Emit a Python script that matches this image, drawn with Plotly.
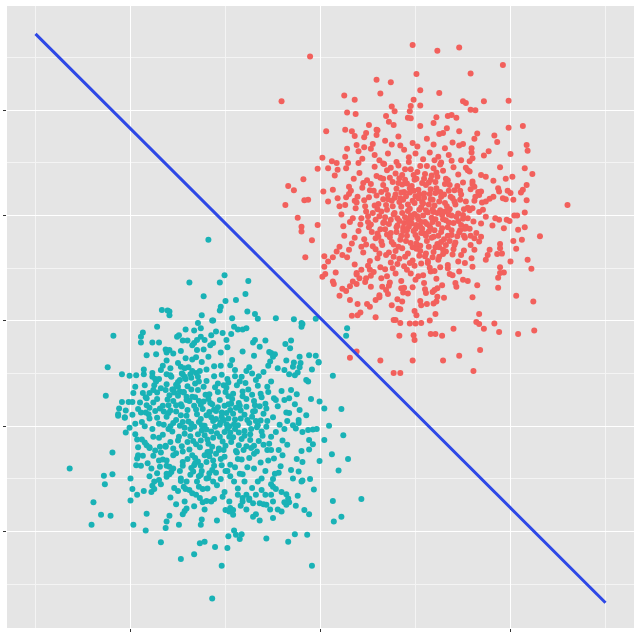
import plotly.graph_objects as go

# class 1 (red) - sparse edge points and dense core
red_outer = [
    (0.97, 5.24), (-0.11, 5.02), (1.01, 4.69), (0.59, 4.58), (0.74, 4.53), (0.63, 4.32), (1.05, 4.38),
    (-0.41, 4.17), (0.25, 4.28), (0.36, 4.20), (0.98, 4.20), (0.95, 4.08), (0.75, 4.07), (0.78, 3.98),
    (0.28, 3.96), (0.37, 3.93), (0.69, 3.89), (0.94, 3.98), (0.92, 3.86), (0.51, 3.72), (0.77, 3.72),
    (0.06, 3.60), (0.26, 3.63), (0.33, 3.60), (0.59, 3.63), (0.48, 3.57), (0.46, 3.49), (0.59, 3.53),
    (0.36, 3.51), (0.38, 3.34), (0.46, 3.30), (0.68, 3.42), (0.53, 3.27), (0.28, 3.27), (0.40, 3.22),
    (0.02, 3.10), (0.26, 3.12), (0.12, 3.03), (0.17, 3.00), (0.29, 3.00), (0.40, 3.00), (-0.03, 2.89),
    (0.08, 2.90), (0.27, 2.90), (0.18, 2.87), (0.15, 2.76), (-0.18, 2.69), (-0.34, 2.56), (-0.28, 2.48),
    (0.03, 2.46), (0.13, 2.49), (-0.17, 2.29), (-0.13, 2.30), (-0.37, 2.20), (0.08, 2.27), (0.18, 2.33),
    (0.27, 2.35), (0.32, 2.47), (0.20, 2.18), (0.36, 2.28),
    (1.23, 5.13), (1.46, 5.19), (1.92, 4.86), (1.58, 4.70), (1.25, 4.33), (1.05, 4.09), (1.50, 4.17),
    (1.53, 4.14), (1.72, 4.17), (1.98, 4.18), (1.58, 4.01), (1.63, 4.00), (1.22, 3.87), (1.19, 3.76),
    (1.34, 3.89), (1.38, 3.91), (1.43, 3.86), (1.98, 3.67), (2.13, 3.70), (1.46, 3.60), (1.29, 3.57),
    (1.33, 3.66), (1.65, 3.56), (1.83, 3.52), (1.62, 3.46), (1.86, 3.40), (2.17, 3.34), (2.18, 3.23),
    (1.77, 3.22), (1.59, 3.28), (1.59, 3.20), (1.72, 3.14), (1.50, 3.36), (1.46, 3.33), (1.39, 3.39),
    (2.00, 3.17), (1.89, 2.92), (2.15, 2.90), (2.23, 2.79), (2.02, 2.74), (1.95, 2.70), (1.82, 2.66),
    (2.17, 2.58), (2.13, 2.49), (2.11, 2.44), (1.87, 2.52), (1.88, 2.46), (1.97, 2.47), (2.00, 2.43),
    (1.74, 2.74), (1.69, 2.77), (2.03, 2.30), (2.17, 2.29), (2.60, 2.20), (1.92, 2.33), (1.95, 2.31),
    (1.82, 2.36), (1.78, 2.32), (1.74, 2.27), (1.69, 2.46), (1.67, 2.39), (1.60, 2.65), (1.62, 2.55),
    (1.53, 2.91), (1.57, 2.84), (1.57, 3.03), (1.60, 3.09),
    (2.15, 2.06), (2.04, 2.00), (2.07, 2.00), (1.99, 1.90), (1.96, 1.92), (1.88, 1.92), (1.84, 1.95),
    (2.15, 1.78), (2.08, 1.73), (2.31, 1.61), (2.12, 1.54), (2.03, 1.52), (2.06, 1.37), (1.93, 1.76),
    (1.81, 1.81), (1.89, 1.46), (1.89, 1.38), (1.86, 1.27), (1.91, 1.28), (2.18, 1.16), (2.00, 1.13),
    (2.22, 0.99), (1.89, 1.02), (1.93, 0.92), (1.89, 0.91), (1.87, 0.82), (1.87, 0.63), (2.06, 0.48),
    (2.24, 0.37), (1.65, 0.68), (1.60, 0.45), (1.67, 0.13), (1.64, -0.02), (1.67, -0.06), (1.83, -0.05),
    (1.72, -0.15), (1.40, -0.15), (1.88, -0.21), (2.08, -0.25), (2.25, -0.18), (1.16, -0.25), (1.21, -0.25),
    (1.28, -0.28), (1.68, -0.55), (1.46, -0.66), (1.29, -0.75), (1.61, -0.95), (1.15, 0.01), (1.21, 0.13),
    (1.06, -0.04), (1.12, 0.32), (1.19, 0.33), (1.22, 0.37), (1.11, 0.53), (1.23, 0.46), (1.23, 0.62),
    (1.20, 0.59), (1.42, 0.72), (1.43, 0.65), (1.50, 0.78), (1.55, 0.76), (1.46, 0.94), (1.39, 0.87),
    (1.34, 1.00), (1.60, 1.03), (1.59, 1.19), (1.52, 1.10), (1.76, 1.25), (1.78, 1.35), (1.74, 1.16),
    (1.67, 1.51), (1.62, 1.57), (1.69, 1.60), (1.51, 1.62), (1.57, 1.75), (1.53, 1.79), (1.71, 2.11),
    (1.60, 2.14), (1.50, 2.01), (1.41, 1.44), (1.32, 1.32), (1.25, 1.22), (1.13, 1.10), (1.08, 0.87),
    (1.06, 0.30),
    (-0.24, 1.96), (-0.20, 1.79), (-0.20, 1.70), (-0.09, 1.53), (-0.16, 1.21), (-0.03, 1.82), (0.02, 0.84),
    (0.05, 0.89), (0.13, 0.75), (0.14, 0.70), (0.16, 0.92), (0.20, 0.48), (0.23, 0.61), (0.27, 0.57),
    (0.31, 0.40), (0.33, 0.10), (0.39, 0.11), (0.42, 0.16), (0.39, 0.32), (0.31, 0.66), (0.38, 0.70),
    (0.53, 0.65), (0.49, 0.32), (0.52, 0.27), (0.58, 0.40), (0.62, 0.49), (0.71, 0.51), (0.58, 0.07),
    (0.77, 0.02), (0.79, 0.02), (0.84, -0.04), (0.94, -0.05), (1.00, -0.05), (0.83, -0.28), (0.82, 0.23),
    (0.86, 0.37), (0.98, -0.27), (0.99, -0.36), (0.63, -0.75), (0.31, -0.70), (0.38, -0.58), (0.77, -0.99),
    (0.84, -0.99), (0.97, -0.75), (0.99, 0.19), (1.01, 0.11), (0.81, 0.41), (0.87, 0.54), (0.88, 0.63),
    (0.04, 1.03), (0.08, 1.13), (0.13, 1.21), (0.04, 1.23), (0.17, 1.32), (0.23, 1.25), (0.20, 1.41),
    (0.34, 0.75), (0.41, 0.81), (0.38, 0.91), (0.43, 0.97), (0.48, 0.81), (0.53, 0.86), (0.52, 0.97),
    (0.65, 0.65), (0.69, 0.59), (0.73, 0.73),
]

red_core = [
    (0.62, 3.05), (0.71, 3.18), (0.80, 3.02), (0.88, 3.25), (0.93, 3.11), (1.02, 3.31), (1.08, 3.07),
    (1.15, 3.20), (1.24, 3.12), (1.31, 3.28), (1.38, 3.04), (0.55, 3.36), (0.97, 3.38), (1.19, 3.35),
    (0.84, 3.33), (1.27, 3.01), (0.67, 2.98),
    (0.41, 2.81), (0.49, 2.67), (0.57, 2.93), (0.63, 2.72), (0.70, 2.86), (0.76, 2.64), (0.82, 2.95),
    (0.86, 2.77), (0.91, 2.61), (0.95, 2.88), (1.01, 2.70), (1.05, 2.94), (1.10, 2.79), (1.14, 2.63),
    (1.19, 2.90), (1.23, 2.74), (1.29, 2.85), (1.34, 2.67), (1.40, 2.92), (1.45, 2.78), (1.50, 2.63),
    (1.55, 2.86), (0.53, 2.60), (0.66, 2.99), (0.79, 2.80), (1.07, 2.62), (1.26, 2.97), (0.98, 2.77),
    (1.16, 2.68), (0.35, 2.70),
    (0.30, 2.41), (0.38, 2.25), (0.44, 2.53), (0.51, 2.35), (0.56, 2.47), (0.61, 2.22), (0.66, 2.58),
    (0.71, 2.39), (0.75, 2.28), (0.80, 2.51), (0.84, 2.33), (0.88, 2.45), (0.92, 2.21), (0.96, 2.56),
    (1.00, 2.37), (1.03, 2.49), (1.07, 2.26), (1.11, 2.58), (1.15, 2.41), (1.18, 2.30), (1.22, 2.52),
    (1.27, 2.36), (1.31, 2.24), (1.35, 2.47), (1.39, 2.33), (1.44, 2.56), (1.48, 2.40), (1.53, 2.27),
    (1.58, 2.50), (1.63, 2.36), (0.46, 2.29), (0.69, 2.49), (0.86, 2.59), (0.99, 2.24), (1.21, 2.43),
    (1.36, 2.58), (0.59, 2.38), (0.94, 2.44), (1.09, 2.34), (1.42, 2.21),
    (0.22, 2.02), (0.31, 1.88), (0.37, 2.14), (0.43, 1.95), (0.48, 2.08), (0.53, 1.83), (0.57, 2.19),
    (0.62, 1.99), (0.66, 1.86), (0.70, 2.11), (0.74, 1.92), (0.78, 2.05), (0.81, 1.81), (0.85, 2.17),
    (0.89, 1.97), (0.92, 2.09), (0.96, 1.85), (0.99, 2.03), (1.03, 1.93), (1.06, 2.16), (1.10, 1.88),
    (1.13, 2.06), (1.17, 1.96), (1.20, 2.19), (1.24, 1.84), (1.28, 2.01), (1.32, 1.91), (1.36, 2.12),
    (1.40, 1.86), (1.45, 2.04), (1.50, 1.94), (1.55, 2.15), (1.61, 1.89), (1.67, 2.07), (1.74, 1.98),
    (0.50, 1.99), (0.64, 2.08), (0.76, 2.18), (0.83, 1.90), (0.94, 2.13), (1.01, 1.82), (1.15, 1.80),
    (1.26, 2.10), (1.38, 2.00), (1.48, 1.82), (0.72, 1.84), (1.08, 2.00), (0.88, 1.86), (1.19, 2.07),
    (0.58, 1.92),
    (0.25, 1.62), (0.33, 1.47), (0.40, 1.71), (0.46, 1.55), (0.51, 1.78), (0.55, 1.42), (0.60, 1.66),
    (0.64, 1.51), (0.68, 1.74), (0.73, 1.59), (0.77, 1.45), (0.80, 1.69), (0.84, 1.54), (0.87, 1.77),
    (0.91, 1.62), (0.95, 1.48), (0.98, 1.71), (1.02, 1.57), (1.05, 1.43), (1.09, 1.66), (1.12, 1.52),
    (1.16, 1.75), (1.19, 1.60), (1.23, 1.46), (1.27, 1.69), (1.30, 1.55), (1.34, 1.78), (1.38, 1.63),
    (1.42, 1.49), (1.47, 1.72), (1.52, 1.58), (1.58, 1.44), (1.64, 1.67), (0.43, 1.41), (0.70, 1.64),
    (0.93, 1.79), (1.07, 1.75), (1.21, 1.40), (1.44, 1.61), (0.58, 1.57), (0.82, 1.41), (1.00, 1.63),
    (1.14, 1.41), (1.32, 1.44), (0.36, 1.58),
    (0.28, 1.21), (0.36, 1.07), (0.45, 1.30), (0.52, 1.14), (0.58, 1.36), (0.63, 1.02), (0.69, 1.25),
    (0.74, 1.11), (0.79, 1.33), (0.83, 1.18), (0.88, 1.04), (0.92, 1.28), (0.97, 1.15), (1.01, 1.37),
    (1.06, 1.09), (1.10, 1.23), (1.15, 1.01), (1.19, 1.31), (1.24, 1.16), (1.29, 1.35), (1.34, 1.06),
    (1.39, 1.26), (1.45, 1.13), (1.51, 1.34), (0.60, 1.19), (0.86, 1.38), (1.04, 1.24), (1.26, 1.02),
    (0.76, 1.00), (0.99, 1.05),
    (0.38, 0.88), (0.47, 0.74), (0.56, 0.93), (0.64, 0.81), (0.72, 0.67), (0.79, 0.90), (0.85, 0.76),
    (0.91, 0.97), (0.97, 0.64), (1.03, 0.85), (1.09, 0.72), (1.16, 0.94), (1.22, 0.80), (1.28, 0.68),
    (1.36, 0.89), (0.68, 0.98), (1.00, 0.78),
    (0.62, 0.45), (0.75, 0.30), (0.92, 0.52), (1.05, 0.38), (1.18, 0.55), (0.84, 0.22), (1.30, 0.44),
    (0.60, 3.62), (0.82, 3.50), (1.05, 3.70), (1.25, 3.55), (0.95, 3.85), (0.72, 3.78), (1.12, 3.46),
    (0.71, 2.31), (0.77, 2.02), (0.83, 2.26), (0.87, 1.71), (0.90, 2.37), (0.93, 1.94), (0.97, 2.28),
    (1.00, 1.75), (1.04, 2.11), (1.06, 1.67), (1.09, 2.42), (1.12, 1.84), (1.14, 2.21), (1.17, 1.58),
    (1.21, 1.93), (1.25, 2.27), (1.28, 1.76), (1.31, 2.08), (1.34, 1.62), (1.37, 2.36), (0.68, 1.97),
    (0.74, 1.67), (0.79, 2.40), (0.81, 1.95), (0.86, 2.05), (0.90, 1.52), (0.95, 2.00), (0.98, 2.47),
    (1.02, 1.99), (1.05, 1.79), (1.08, 2.23), (1.11, 1.62), (1.16, 2.31), (1.20, 1.72), (1.23, 2.05),
    (1.27, 1.50), (1.30, 2.40), (1.35, 1.87), (1.41, 2.27), (1.46, 1.68), (0.60, 2.12), (0.63, 1.74),
    (0.66, 2.31), (0.92, 1.88), (1.03, 2.33), (1.18, 2.12), (1.33, 2.18), (1.45, 1.90), (0.54, 1.69),
    (0.85, 2.44), (0.66, 2.70), (0.74, 2.91), (0.89, 2.68), (1.02, 2.83), (1.17, 2.76), (1.31, 2.60),
    (0.83, 2.71), (1.12, 2.94), (0.93, 3.02), (1.21, 2.64), (0.72, 1.30), (0.89, 1.22), (1.05, 1.33),
    (1.18, 1.21), (0.81, 1.08), (0.97, 1.40), (1.13, 1.14), (1.29, 1.27), (0.65, 1.44), (1.36, 1.52),
    (0.47, 2.18), (0.52, 2.48), (0.42, 1.83), (1.57, 2.10), (1.62, 2.28), (1.52, 1.75), (1.47, 2.47),
    (0.39, 2.36), (1.69, 1.85), (0.34, 1.95),
    (0.45, 2.62), (0.50, 1.88), (0.55, 2.05), (0.59, 2.75), (0.61, 1.60), (0.64, 2.45), (0.67, 1.88),
    (0.69, 2.20), (0.73, 2.72), (0.75, 1.50), (0.78, 2.34), (0.80, 1.78), (0.82, 2.62), (0.85, 1.62),
    (0.87, 2.30), (0.89, 2.88), (0.91, 1.72), (0.94, 2.52), (0.96, 1.95), (0.99, 2.68), (1.01, 1.47),
    (1.04, 2.40), (1.06, 1.88), (1.09, 2.70), (1.11, 2.10), (1.14, 1.70), (1.16, 2.50), (1.18, 1.88),
    (1.22, 2.82), (1.24, 1.62), (1.26, 2.45), (1.29, 1.93), (1.32, 2.70), (1.35, 2.02), (1.38, 1.72),
    (1.41, 2.48), (1.43, 1.98), (1.47, 2.30), (1.51, 2.12), (1.55, 1.95), (0.48, 1.45), (0.62, 1.28),
    (0.77, 1.22), (0.94, 1.10), (1.11, 1.28), (1.25, 1.40), (1.40, 1.36), (0.57, 3.15), (0.75, 3.35),
    (1.00, 3.18), (1.20, 3.05), (1.35, 3.15), (1.48, 3.05), (0.44, 3.08), (0.30, 2.55), (0.26, 2.20),
    (0.24, 1.80), (0.30, 1.35), (1.60, 2.60), (1.66, 2.45), (1.70, 2.25), (1.58, 1.62), (1.62, 1.35),
    (1.48, 1.25), (0.50, 1.05), (0.70, 0.85), (0.95, 0.90), (1.20, 0.95), (1.10, 0.60), (0.85, 0.62),
]

# class 2 (teal)
blue_outer = [
    (-1.18, 1.54), (-1.38, 0.73), (-1.23, 0.47), (-1.67, 0.21), (-1.61, 0.20), (-1.59, 0.18), (-1.59, 0.11),
    (-1.25, 0.11), (-1.14, 0.01), (-1.29, -0.04), (-1.26, -0.14), (-1.33, -0.18), (-1.72, -0.11),
    (-2.18, -0.28), (-1.87, -0.22), (-1.89, -0.30), (-1.89, -0.41), (-1.77, -0.41), (-1.70, -0.41),
    (-1.42, -0.16), (-1.51, -0.30), (-1.49, -0.27), (-1.45, -0.37), (-1.40, -0.37), (-1.35, -0.46),
    (-1.33, -0.42), (-1.30, -0.36), (-1.26, -0.30), (-1.22, -0.36), (-1.16, -0.46), (-1.13, -0.42),
    (-1.23, -0.54), (-1.83, -0.65), (-1.73, -0.63), (-1.62, -0.60), (-1.59, -0.55), (-1.63, -0.54),
    (-1.47, -0.57), (-2.24, -0.88), (-1.50, -0.80), (-1.47, -0.87), (-1.39, -0.88), (-1.35, -0.73),
    (-1.31, -0.69), (-2.09, -1.01), (-2.01, -1.04), (-1.94, -1.03), (-1.86, -1.01), (-1.77, -0.99),
    (-1.77, -1.06), (-1.68, -0.93), (-1.62, -1.01), (-1.57, -1.06), (-1.45, -1.01), (-1.43, -1.06),
    (-1.37, -1.01), (-1.31, -0.99), (-1.29, -1.06), (-2.26, -1.42), (-2.09, -1.54), (-2.02, -1.54),
    (-1.98, -1.54), (-2.12, -1.66), (-2.13, -1.77), (-2.05, -1.70), (-2.06, -1.83), (-1.97, -1.37),
    (-1.87, -1.37), (-1.85, -1.22), (-1.83, -1.47), (-1.80, -1.37), (-1.76, -1.31), (-1.72, -1.36),
    (-1.75, -1.22), (-1.73, -1.15), (-1.92, -1.67), (-1.89, -1.74), (-1.84, -1.74), (-1.81, -1.77),
    (-1.62, -1.20), (-1.63, -1.31), (-1.59, -1.41), (-1.55, -1.30), (-1.50, -1.25), (-1.48, -1.34),
    (-1.44, -1.36), (-1.41, -1.44), (-1.69, -1.66), (-1.66, -1.61), (-1.60, -1.75), (-1.52, -1.72),
    (-2.64, -2.80), (-2.19, -2.50), (-2.28, -2.94), (-2.19, -2.91), (-2.27, -3.10), (-2.39, -3.44),
    (-2.31, -3.68), (-2.21, -3.70), (-2.41, -3.87), (-1.97, -3.87), (-2.00, -2.99), (-1.98, -3.19),
    (-1.93, -3.30), (-2.00, -3.41), (-1.86, -3.23), (-1.78, -3.25), (-1.77, -3.13), (-1.75, -3.19),
    (-1.83, -3.66), (-1.84, -3.98), (-1.68, -4.20), (-1.63, -3.93), (-1.62, -3.81), (-1.59, -3.70),
    (-1.49, -3.87), (-1.47, -4.52), (-1.33, -4.43), (-1.27, -4.22), (-1.22, -4.19), (-1.14, -5.27),
    (-1.25, -3.77), (-1.26, -3.87), (-1.52, -3.48), (-1.45, -3.67), (-1.43, -3.61), (-1.41, -3.56),
    (-1.94, -2.74), (-1.89, -2.75), (-1.93, -2.61), (-1.87, -2.56), (-1.93, -2.25), (-2.05, -2.12),
    (-2.01, -2.03), (-2.06, -1.84), (-2.13, -1.80), (-1.83, -2.36), (-1.80, -2.41), (-1.76, -2.56),
    (-1.69, -2.77), (-1.72, -2.89), (-1.70, -3.02), (-1.62, -2.96), (-1.54, -3.17), (-1.50, -3.23),
    (-1.43, -3.43), (-1.69, -2.39), (-1.63, -2.39), (-1.62, -2.75), (-1.55, -2.80), (-1.59, -2.91),
    (-1.47, -2.99), (-1.41, -3.05), (-1.44, -3.15), (-1.38, -3.21), (-1.35, -3.27), (-1.31, -3.30),
    (-1.27, -3.36), (-1.24, -3.44), (-1.20, -3.42), (-1.15, -3.43), (-1.34, -2.86), (-1.33, -2.74),
    (-1.29, -2.67), (-1.26, -2.92), (-1.20, -2.99), (-1.17, -2.89), (-1.13, -3.05), (-1.19, -3.18),
    (-1.24, -3.19),
    (0.09, -1.99), (0.24, -2.17), (0.04, -2.26), (0.12, -2.53), (0.29, -2.62), (-0.01, -2.66), (0.19, -2.84),
    (0.43, -3.38), (0.13, -3.42), (0.22, -3.72), (0.14, -3.81), (-0.07, -3.20), (-0.11, -3.00),
    (-0.19, -3.03), (-0.17, -3.59), (-0.12, -3.67), (-0.24, -3.32), (-0.26, -3.51), (-0.14, -4.06),
    (-0.27, -4.05), (-0.34, -4.19), (-0.57, -4.13), (-0.09, -4.65), (-0.83, -4.05), (-0.91, -3.98),
    (-0.89, -4.06), (-0.85, -4.14), (-0.97, -4.09), (-1.11, -4.29), (-0.98, -4.31), (-1.04, -4.65),
    (-1.09, -3.79), (-0.64, -3.79), (-0.71, -3.72), (-0.68, -3.67), (-0.50, -3.74), (-0.36, -3.49),
    (-0.33, -3.44), (-0.38, -3.44), (-0.50, -3.43), (-0.45, -3.58), (-0.41, -3.62), (-0.53, -3.58),
    (-0.57, -3.49), (-0.64, -3.46), (-0.71, -3.46), (-0.78, -3.58), (-0.84, -3.51), (-0.82, -3.43),
    (-0.75, -3.40), (-0.92, -3.68), (-0.96, -3.62), (-1.00, -3.59), (-0.92, -3.59), (-0.20, -3.05),
    (-0.29, -2.99), (-0.23, -2.86), (-0.31, -2.83), (-0.19, -2.68), (-0.25, -2.62), (-0.20, -2.47),
    (-0.12, -2.44), (-0.08, -2.34), (-0.12, -2.26), (-0.04, -2.05), (-0.08, -2.06), (-0.13, -2.07),
    (-0.19, -2.11), (-0.26, -2.04), (-0.29, -1.98), (-0.35, -1.90), (-0.23, -1.88), (-0.23, -1.94),
    (-0.36, -3.29), (-0.34, -3.37), (-0.41, -3.25), (-0.47, -3.19), (-0.50, -3.15), (-0.52, -3.30),
    (-0.58, -3.30), (-0.62, -3.21), (-0.68, -3.30), (-0.75, -3.37), (-0.82, -3.36), (-0.87, -3.30),
    (-0.96, -3.43), (-1.03, -3.34),
    (-1.01, 0.87), (-1.06, 0.73), (-0.76, 0.76), (-0.79, 0.51), (-0.89, 0.40), (-1.00, 0.38), (-1.05, 0.27),
    (-1.06, 0.20), (-0.77, 0.18), (-0.69, 0.13), (-0.66, 0.04), (-1.13, 0.01), (-0.93, 0.05), (-0.91, -0.11),
    (-0.87, -0.16), (-0.82, -0.16), (-0.78, -0.14), (-0.47, 0.05), (-0.28, 0.03), (-0.19, -0.06),
    (-0.20, -0.11), (-0.05, 0.04), (0.28, -0.14), (0.27, -0.28), (-1.15, -0.27), (-1.10, -0.20),
    (-1.03, -0.23), (-0.99, -0.36), (-0.94, -0.25), (-0.71, -0.41), (-0.69, -0.36), (-0.64, -0.49),
    (-0.58, -0.37), (-0.52, -0.61), (-0.48, -0.63), (-0.54, -0.59), (-0.50, -0.68), (-0.53, -0.77),
    (-0.37, -0.44), (-0.31, -0.37), (-0.32, -0.52), (-0.22, -0.68), (-0.12, -0.65), (-0.05, -0.66),
    (-0.02, -0.79), (-0.36, -0.75), (-0.28, -0.79), (-0.21, -0.80), (-0.22, -0.88), (-0.29, -0.87),
    (-0.09, -0.92), (-0.02, -0.78), (0.13, -1.04), (-0.38, -0.93), (-0.33, -1.01), (-0.27, -1.03),
    (-0.24, -0.98), (-0.15, -1.12), (-0.13, -1.15), (-0.31, -1.31), (-0.25, -1.39), (-0.33, -1.47),
    (-0.10, -1.48), (-0.01, -1.53), (0.04, -1.66), (0.22, -1.67), (-0.22, -1.69), (-0.15, -1.79),
    (-0.33, -1.75), (-0.27, -1.58), (-0.20, -0.04),
]

blue_core = [
    (-1.55, -0.62), (-1.42, -0.71), (-1.30, -0.55), (-1.18, -0.68), (-1.05, -0.60), (-0.93, -0.74),
    (-0.82, -0.58), (-0.70, -0.66), (-1.25, -0.78), (-0.98, -0.50), (-1.62, -0.75),
    (-1.86, -0.92), (-1.74, -1.10), (-1.66, -0.85), (-1.58, -1.03), (-1.50, -1.16), (-1.43, -0.90),
    (-1.36, -1.08), (-1.27, -0.95), (-1.20, -1.14), (-1.12, -0.86), (-1.04, -1.02), (-0.97, -1.17),
    (-0.90, -0.93), (-0.83, -1.06), (-0.75, -0.88), (-0.68, -1.12), (-0.60, -0.97), (-0.52, -1.15),
    (-0.45, -0.90), (-1.32, -1.19), (-1.08, -1.19), (-0.79, -1.18), (-1.46, -1.00), (-0.95, -0.84),
    (-1.95, -1.25), (-1.84, -1.45), (-1.76, -1.55), (-1.68, -1.28), (-1.61, -1.49), (-1.54, -1.36),
    (-1.47, -1.58), (-1.40, -1.24), (-1.35, -1.44), (-1.29, -1.31), (-1.23, -1.53), (-1.17, -1.39),
    (-1.11, -1.26), (-1.06, -1.50), (-1.00, -1.35), (-0.94, -1.57), (-0.88, -1.22), (-0.82, -1.43),
    (-0.76, -1.30), (-0.70, -1.52), (-0.63, -1.38), (-0.56, -1.25), (-0.49, -1.47), (-0.41, -1.33),
    (-1.52, -1.21), (-1.26, -1.59), (-1.02, -1.22), (-0.86, -1.56), (-0.66, -1.23), (-1.38, -1.52),
    (-1.14, -1.58), (-0.97, -1.43), (-1.44, -1.35), (-0.58, -1.57),
    (-1.98, -1.78), (-1.88, -1.92), (-1.80, -1.65), (-1.72, -1.84), (-1.65, -1.97), (-1.58, -1.70),
    (-1.52, -1.88), (-1.46, -1.62), (-1.41, -1.80), (-1.36, -1.95), (-1.31, -1.68), (-1.26, -1.86),
    (-1.22, -1.99), (-1.17, -1.73), (-1.13, -1.90), (-1.08, -1.64), (-1.04, -1.82), (-0.99, -1.96),
    (-0.95, -1.69), (-0.90, -1.87), (-0.85, -1.61), (-0.80, -1.78), (-0.75, -1.94), (-0.69, -1.71),
    (-0.63, -1.89), (-0.57, -1.66), (-0.50, -1.83), (-0.43, -1.97), (-0.36, -1.74), (-1.62, -1.82),
    (-1.48, -1.99), (-1.33, -1.61), (-1.20, -1.79), (-1.06, -1.97), (-0.92, -1.76), (-0.78, -1.63),
    (-0.66, -1.98), (-1.74, -1.71), (-1.10, -1.71), (-1.28, -1.92), (-0.97, -1.85), (-1.55, -1.94),
    (-0.87, -1.98), (-1.40, -1.69), (-1.15, -1.83), (-0.72, -1.82), (-1.01, -1.61), (-0.60, -1.76),
    (-1.95, -2.15), (-1.85, -2.31), (-1.77, -2.05), (-1.70, -2.22), (-1.63, -2.37), (-1.56, -2.10),
    (-1.50, -2.27), (-1.43, -2.03), (-1.37, -2.19), (-1.31, -2.34), (-1.25, -2.08), (-1.19, -2.25),
    (-1.14, -2.39), (-1.09, -2.13), (-1.03, -2.29), (-0.98, -2.04), (-0.92, -2.21), (-0.86, -2.36),
    (-0.80, -2.09), (-0.74, -2.26), (-0.67, -2.02), (-0.61, -2.18), (-0.54, -2.33), (-0.47, -2.11),
    (-0.40, -2.27), (-1.66, -2.16), (-1.46, -2.38), (-1.22, -2.17), (-1.00, -2.37), (-0.83, -2.24),
    (-1.33, -2.01), (-1.11, -2.01), (-0.70, -2.37), (-1.58, -2.30), (-0.95, -2.12), (-1.26, -2.27),
    (-0.57, -2.01), (-1.80, -2.40),
    (-1.92, -2.55), (-1.82, -2.70), (-1.74, -2.46), (-1.66, -2.63), (-1.59, -2.77), (-1.52, -2.51),
    (-1.45, -2.68), (-1.38, -2.44), (-1.32, -2.60), (-1.26, -2.75), (-1.19, -2.49), (-1.13, -2.65),
    (-1.07, -2.42), (-1.01, -2.58), (-0.95, -2.73), (-0.89, -2.47), (-0.83, -2.63), (-0.77, -2.78),
    (-0.70, -2.52), (-0.63, -2.69), (-0.56, -2.45), (-0.49, -2.61), (-0.42, -2.76), (-1.36, -2.79),
    (-1.04, -2.74), (-0.73, -2.41), (-1.55, -2.42), (-1.17, -2.57),
    (-1.80, -2.95), (-1.68, -3.10), (-1.57, -2.87), (-1.47, -3.04), (-1.37, -2.92), (-1.28, -3.15),
    (-1.18, -2.98), (-1.09, -3.12), (-1.00, -2.85), (-0.91, -3.05), (-0.82, -2.91), (-0.72, -3.17),
    (-0.62, -2.99), (-0.52, -3.10), (-0.44, -2.88), (-1.14, -2.83), (-0.87, -3.18), (-1.42, -3.19),
    (-1.58, -3.35), (-1.33, -3.52), (-1.12, -3.38), (-0.95, -3.55), (-0.78, -3.30), (-0.60, -3.48),
    (-1.01, -3.25), (-1.22, -3.58),
    (-1.52, -1.60), (-1.47, -1.79), (-1.43, -2.14), (-1.39, -1.91), (-1.34, -2.28), (-1.30, -1.77),
    (-1.27, -2.40), (-1.24, -1.67), (-1.20, -2.06), (-1.16, -1.56), (-1.13, -2.22), (-1.10, -1.86),
    (-1.07, -2.45), (-1.04, -1.74), (-1.01, -2.11), (-0.97, -1.58), (-0.94, -2.30), (-0.91, -1.96),
    (-0.88, -2.50), (-0.84, -1.70), (-0.80, -2.18), (-0.77, -1.88), (-0.73, -2.05), (-0.69, -1.60),
    (-0.65, -2.28), (-1.58, -2.00), (-1.49, -2.20), (-1.41, -1.50), (-1.37, -2.05), (-1.32, -1.45),
    (-1.21, -1.40), (-1.18, -2.33), (-1.12, -1.68), (-1.06, -2.20), (-0.99, -1.27), (-0.96, -2.00),
    (-0.89, -1.65), (-0.86, -2.12), (-0.82, -1.34), (-0.78, -2.38), (-0.72, -1.40), (-0.68, -1.90),
    (-0.62, -2.10), (-1.55, -1.52), (-1.45, -1.92), (-1.29, -2.15), (-1.23, -1.25), (-1.16, -2.48),
    (-1.02, -1.88), (-0.92, -1.38), (-1.35, -2.55), (-1.20, -2.68), (-1.05, -2.62), (-0.90, -2.78),
    (-0.75, -2.60), (-1.48, -2.85), (-1.28, -2.95), (-1.10, -2.88), (-0.95, -2.95), (-0.80, -3.05),
    (-1.42, -1.10), (-1.28, -1.15), (-1.12, -1.05), (-0.98, -1.10), (-0.85, -1.15), (-0.72, -1.00),
    (-1.56, -1.30), (-0.62, -1.45), (-1.70, -1.95), (-1.68, -2.50), (-0.52, -2.45), (-0.45, -1.62),
    (-0.38, -2.05), (-1.85, -2.00), (-1.78, -2.80), (-0.58, -2.85), (-0.55, -1.35), (-1.90, -1.55),
    (-1.62, -2.65), (-0.48, -2.90),
    (-1.72, -1.48), (-1.65, -1.72), (-1.60, -2.05), (-1.55, -2.55), (-1.50, -1.42), (-1.45, -2.48),
    (-1.40, -2.30), (-1.36, -1.30), (-1.32, -2.70), (-1.28, -1.52), (-1.25, -1.98), (-1.22, -2.55),
    (-1.18, -1.48), (-1.15, -2.10), (-1.12, -2.75), (-1.08, -1.35), (-1.05, -1.92), (-1.02, -2.45),
    (-0.99, -1.75), (-0.96, -2.20), (-0.93, -1.48), (-0.90, -2.05), (-0.87, -2.62), (-0.84, -1.85),
    (-0.81, -2.45), (-0.78, -1.48), (-0.74, -2.15), (-0.71, -1.72), (-0.67, -2.48), (-0.64, -1.62),
    (-0.60, -2.35), (-0.56, -1.90), (-0.52, -2.20), (-0.47, -1.50), (-0.44, -2.45), (-1.80, -1.85),
    (-1.76, -2.20), (-1.83, -1.60), (-1.88, -2.25), (-1.70, -2.65), (-1.60, -1.60), (-1.48, -1.12),
    (-1.35, -0.95), (-1.20, -0.92), (-1.05, -0.85), (-0.90, -1.05), (-0.78, -0.95), (-0.65, -1.05),
    (-0.55, -0.85), (-1.58, -0.90), (-1.70, -1.10), (-1.40, -2.62), (-1.25, -2.85), (-1.10, -2.52),
    (-0.98, -2.85), (-0.85, -2.90), (-0.70, -2.80), (-0.55, -2.65), (-1.62, -2.90), (-1.45, -2.75),
    (-0.40, -2.55), (-0.38, -1.50), (-0.35, -2.35), (-1.92, -2.40), (-1.95, -1.95), (-0.66, -3.05),
    (-1.30, -3.05), (-1.05, -3.00), (-0.50, -3.00), (-1.75, -3.05),
]

# fitted decision boundary
line_x = [-3.0, -2.8, -2.6, -2.4, -2.2, -2.0, -1.8, -1.6, -1.4, -1.2, -1.0, -0.8, -0.6, -0.4, -0.2, 0.0,
          0.2, 0.4, 0.6, 0.8, 1.0, 1.2, 1.4, 1.6, 1.8, 2.0, 2.2, 2.4, 2.6, 2.8, 3.0]
line_y = [5.45, 5.09, 4.73, 4.37, 4.00, 3.65, 3.28, 2.93, 2.56, 2.21, 1.84, 1.49, 1.12, 0.77, 0.40, 0.05,
          -0.32, -0.67, -1.04, -1.39, -1.76, -2.11, -2.48, -2.83, -3.20, -3.55, -3.92, -4.27, -4.64, -4.99, -5.35]

red = red_outer + red_core
blue = blue_outer + blue_core

fig = go.Figure()

fig.add_trace(go.Scatter(
    x=[p[0] for p in red], y=[p[1] for p in red],
    mode='markers', marker=dict(color='#F2605C', size=6), name='1'
))
fig.add_trace(go.Scatter(
    x=[p[0] for p in blue], y=[p[1] for p in blue],
    mode='markers', marker=dict(color='#19B2B6', size=6), name='2'
))
fig.add_trace(go.Scatter(
    x=line_x, y=line_y, mode='lines',
    line=dict(color='#2E48E6', width=3), name='boundary'
))

axis_style = dict(
    showticklabels=False, ticks='outside', ticklen=3, tickwidth=1, tickcolor='#333333',
    showgrid=True, gridcolor='white', gridwidth=1.2, zeroline=False, showline=False,
    automargin=False,
)

fig.update_xaxes(range=[-3.3, 3.3], tickvals=[-2, 0, 2],
                 minor=dict(tickvals=[-3, -1, 1, 3], showgrid=True, gridcolor='#F4F4F4', gridwidth=0.6),
                 **axis_style)
fig.update_yaxes(range=[-5.83, 5.98], tickvals=[-4, -2, 0, 2, 4, 6],
                 minor=dict(tickvals=[-5, -3, -1, 1, 3, 5], showgrid=True, gridcolor='#F4F4F4', gridwidth=0.6),
                 **axis_style)

fig.update_layout(
    width=640, height=640,
    margin=dict(l=7, r=6, t=6, b=12),
    plot_bgcolor='#E5E5E5', paper_bgcolor='white',
    showlegend=False,
)

fig.write_html("out.html", config={'displayModeBar': False},
               post_script="document.body.style.margin = '0';")
